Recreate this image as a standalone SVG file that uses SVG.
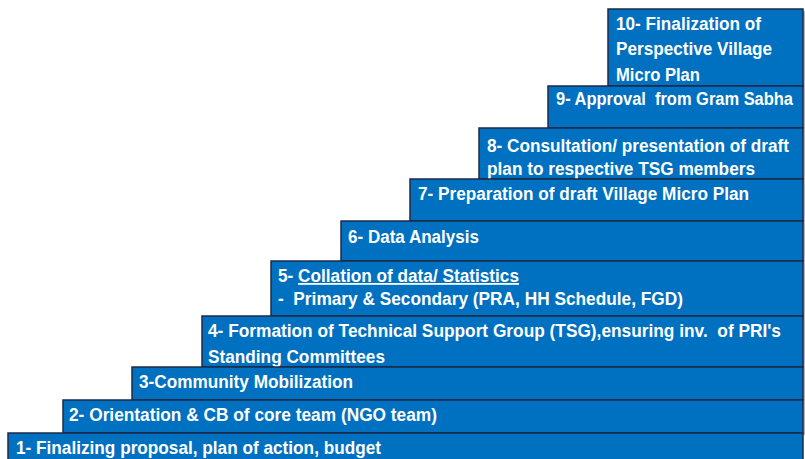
<svg xmlns="http://www.w3.org/2000/svg" width="805" height="459" viewBox="0 0 805 459" xml:space="preserve">
<style>
.step{fill:#0070c0;stroke:#1c2a48;stroke-width:1.5}
.sh{fill:#b8b8b8}
text{font-family:"Liberation Sans Narrow","Arial Narrow","Liberation Sans",Arial,sans-serif;font-weight:bold;font-size:18px;fill:#ffffff;white-space:pre}
</style>
<rect width="805" height="459" fill="#ffffff"/>
<g id="step10"><rect class="sh" x="610" y="11" width="195" height="77"/><rect class="step" x="608" y="9" width="195" height="77"/>
<text x="616" y="30" textLength="145" lengthAdjust="spacingAndGlyphs">10- Finalization of</text>
<text x="616" y="55" textLength="156" lengthAdjust="spacingAndGlyphs">Perspective Village</text>
<text x="616" y="81" textLength="84" lengthAdjust="spacingAndGlyphs">Micro Plan</text></g>
<g id="step9"><rect class="sh" x="550" y="88" width="255" height="42"/><rect class="step" x="548" y="86" width="255" height="42"/>
<text x="556" y="105" textLength="237" lengthAdjust="spacingAndGlyphs">9- Approval  from Gram Sabha</text></g>
<g id="step8"><rect class="sh" x="481" y="130" width="324" height="51"/><rect class="step" x="479" y="128" width="324" height="51"/>
<text x="487" y="152" textLength="302" lengthAdjust="spacingAndGlyphs">8- Consultation/ presentation of draft</text>
<text x="487" y="175" textLength="268" lengthAdjust="spacingAndGlyphs">plan to respective TSG members</text></g>
<g id="step7"><rect class="sh" x="412" y="181" width="393" height="42"/><rect class="step" x="410" y="179" width="393" height="42"/>
<text x="418" y="200" textLength="331" lengthAdjust="spacingAndGlyphs">7- Preparation of draft Village Micro Plan</text></g>
<g id="step6"><rect class="sh" x="343" y="223" width="462" height="40"/><rect class="step" x="341" y="221" width="462" height="40"/>
<text x="348" y="243" textLength="131" lengthAdjust="spacingAndGlyphs">6- Data Analysis</text></g>
<g id="step5"><rect class="sh" x="273" y="263" width="532" height="55"/><rect class="step" x="271" y="261" width="532" height="55"/>
<text x="278" y="282" textLength="241" lengthAdjust="spacingAndGlyphs">5- <tspan text-decoration="underline">Collation of data/ Statistics</tspan></text>
<text x="278" y="305" textLength="405" lengthAdjust="spacingAndGlyphs">-  Primary &amp; Secondary (PRA, HH Schedule, FGD)</text></g>
<g id="step4"><rect class="sh" x="204" y="318" width="601" height="51"/><rect class="step" x="202" y="316" width="601" height="51"/>
<text x="208" y="337" textLength="573" lengthAdjust="spacingAndGlyphs">4- Formation of Technical Support Group (TSG),ensuring inv.  of PRI's</text>
<text x="208" y="363" textLength="177" lengthAdjust="spacingAndGlyphs">Standing Committees</text></g>
<g id="step3"><rect class="sh" x="134" y="369" width="671" height="33"/><rect class="step" x="132" y="367" width="671" height="33"/>
<text x="139" y="388" textLength="214" lengthAdjust="spacingAndGlyphs">3-Community Mobilization</text></g>
<g id="step2"><rect class="sh" x="65" y="402" width="740" height="33"/><rect class="step" x="63" y="400" width="740" height="33"/>
<text x="69" y="421" textLength="368" lengthAdjust="spacingAndGlyphs">2- Orientation &amp; CB of core team (NGO team)</text></g>
<g id="step1"><rect class="step" x="8" y="433" width="795" height="40"/>
<text x="16" y="454" textLength="365" lengthAdjust="spacingAndGlyphs">1- Finalizing proposal, plan of action, budget</text></g>
</svg>
